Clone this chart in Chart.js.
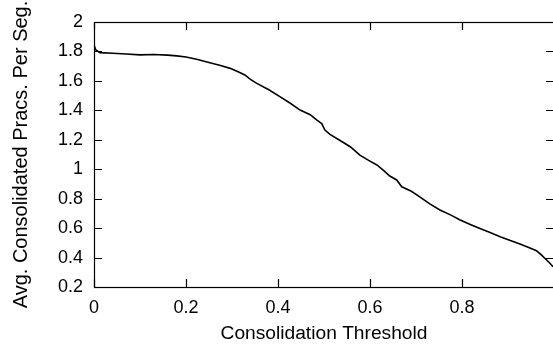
<!DOCTYPE html>
<html>
<head>
<meta charset="utf-8">
<script src="https://cdn.jsdelivr.net/npm/chart.js@4.4.1/dist/chart.umd.min.js"></script>
<style>
html, body { margin:0; padding:0; background:#fff; overflow:hidden; }
#wrap { width:556px; height:344px; }
</style>
</head>
<body>
<div id="wrap"><canvas id="thresholdChart" width="556" height="344"></canvas></div>
<script>

// consolidation threshold (x) vs avg consolidated pracs per segment (y)
const thresholds = [0, 0.004, 0.013, 0.04, 0.07, 0.1, 0.13, 0.16, 0.18, 0.2, 0.223, 0.25, 0.275, 0.296, 0.312, 0.328, 0.34, 0.354, 0.38, 0.404, 0.426, 0.448, 0.47, 0.484, 0.495, 0.502, 0.513, 0.535, 0.557, 0.578, 0.597, 0.615, 0.63, 0.643, 0.658, 0.669, 0.69, 0.709, 0.73, 0.752, 0.775, 0.796, 0.818, 0.839, 0.861, 0.883, 0.905, 0.926, 0.945, 0.962, 0.972, 0.98, 0.99, 0.998];
const avgPracs = [1.844, 1.81, 1.792, 1.788, 1.783, 1.777, 1.779, 1.775, 1.77, 1.762, 1.747, 1.725, 1.705, 1.685, 1.664, 1.64, 1.61, 1.583, 1.54, 1.493, 1.45, 1.402, 1.37, 1.335, 1.31, 1.266, 1.237, 1.195, 1.153, 1.096, 1.06, 1.029, 0.99, 0.954, 0.927, 0.881, 0.85, 0.81, 0.765, 0.723, 0.69, 0.655, 0.625, 0.598, 0.57, 0.542, 0.516, 0.492, 0.468, 0.446, 0.42, 0.395, 0.365, 0.338];

const xTicks = [0, 0.2, 0.4, 0.6, 0.8];
const yTicks = [0.2, 0.4, 0.6, 0.8, 1, 1.2, 1.4, 1.6, 1.8, 2];

const tickFont = { family: "'Liberation Sans', Arial, sans-serif", size: 18 };
const xTitleFont = { family: "'Liberation Sans', Arial, sans-serif", size: 19.2 };
const yTitleFont = { family: "'Liberation Sans', Arial, sans-serif", size: 20 };

// gnuplot style frame with inward ticks on all four sides
const frameTicks = {
  id: "frameTicks",
  afterDraw(chart){
    const ctx = chart.ctx;
    const a = chart.chartArea;
    const xs = chart.scales.x;
    const ys = chart.scales.y;
    const len = 8;
    ctx.save();
    ctx.strokeStyle = "#000";
    ctx.lineWidth = 1.2;
    ctx.strokeRect(a.left + 0.5, a.top + 0.5, a.right - a.left, a.bottom - a.top);
    ctx.beginPath();
    xs.ticks.forEach(t => {
      const px = Math.round(xs.getPixelForValue(t.value)) + 0.5;
      ctx.moveTo(px, a.bottom); ctx.lineTo(px, a.bottom - len);
      ctx.moveTo(px, a.top); ctx.lineTo(px, a.top + len);
    });
    ys.ticks.forEach(t => {
      const py = Math.round(ys.getPixelForValue(t.value)) + 0.5;
      ctx.moveTo(a.left, py); ctx.lineTo(a.left + len, py);
      ctx.moveTo(a.right, py); ctx.lineTo(a.right - len, py);
    });
    ctx.stroke();
    ctx.restore();
  }
};

const points = thresholds.map((x, i) => ({ x: x, y: avgPracs[i] }));

new Chart(document.getElementById("thresholdChart"), {
  type: "line",
  data: {
    datasets: [{
      data: points,
      borderColor: "#000",
      borderWidth: 1.6,
      pointRadius: 0,
      tension: 0,
      fill: false
    }]
  },
  options: {
    responsive: false,
    animation: false,
    layout: { padding: { top: 22, right: 2, left: 0, bottom: 0 } },
    plugins: { legend: { display: false }, tooltip: { enabled: false } },
    scales: {
      x: {
        type: "linear",
        min: 0,
        max: 1,
        afterBuildTicks: s => { s.ticks = xTicks.map(v => ({ value: v })); },
        afterFit: s => { s.height = 57; },
        grid: { display: false, drawTicks: false },
        border: { display: false },
        ticks: {
          font: tickFont,
          color: "#000",
          padding: 10,
          maxRotation: 0,
          callback: v => String(Number(v.toFixed(1)))
        },
        title: {
          display: true,
          text: "Consolidation Threshold",
          font: xTitleFont,
          color: "#000",
          padding: { top: 0, bottom: -1 }
        }
      },
      y: {
        min: 0.2,
        max: 2,
        afterBuildTicks: s => { s.ticks = yTicks.map(v => ({ value: v })); },
        afterFit: s => { s.width = 94; },
        grid: { display: false, drawTicks: false },
        border: { display: false },
        ticks: {
          font: tickFont,
          color: "#000",
          padding: 11,
          callback: v => String(Number(v.toFixed(1)))
        },
        title: {
          display: true,
          text: "Avg. Consolidated Pracs. Per Seg.",
          font: yTitleFont,
          color: "#000",
          padding: { top: 9, bottom: 0 }
        }
      }
    }
  },
  plugins: [frameTicks]
});

</script>
</body>
</html>
